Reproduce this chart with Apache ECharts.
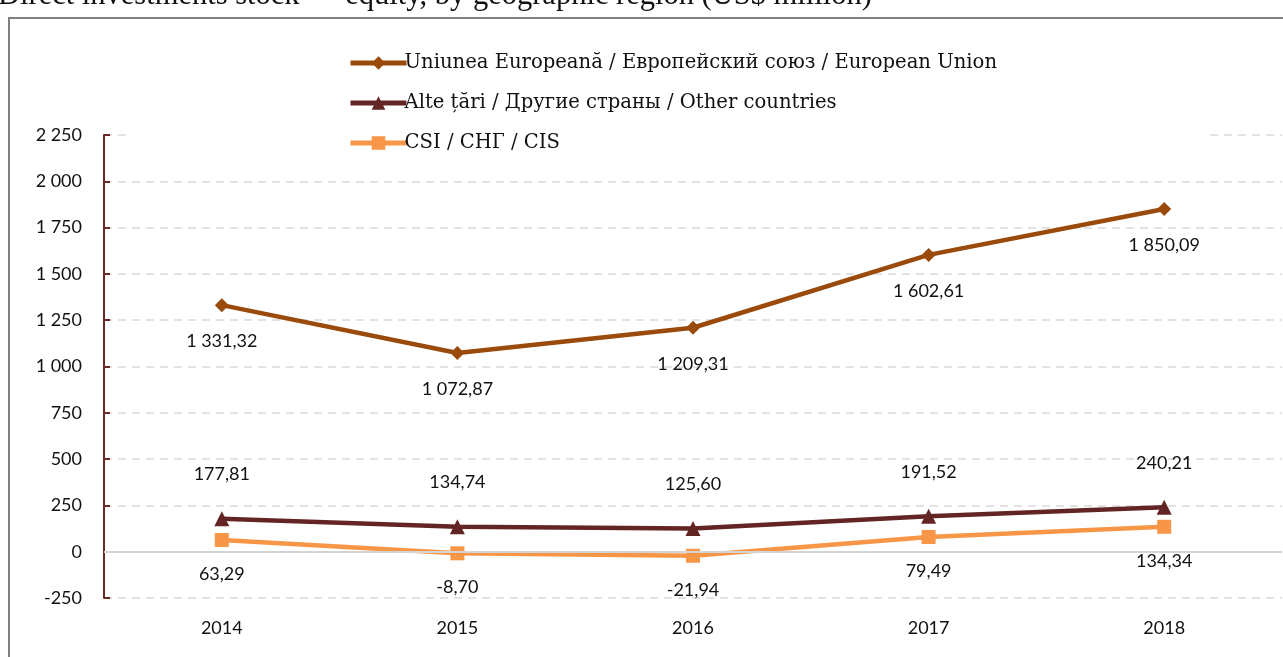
<!DOCTYPE html>
<html>
<head>
<meta charset="utf-8">
<script src="https://cdn.jsdelivr.net/npm/echarts@6/dist/echarts.min.js"></script>
<style>
  html, body { margin: 0; padding: 0; background: #fff; }
  #chart { width: 1283px; height: 657px; }
</style>
</head>
<body>
<div id="chart"></div>
<script>
var years = ['2014', '2015', '2016', '2017', '2018'];
var euValues = [1331.32, 1072.87, 1209.31, 1602.61, 1850.09];
var otherValues = [177.81, 134.74, 125.60, 191.52, 240.21];
var cisValues = [63.29, -8.70, -21.94, 79.49, 134.34];
var seriesNames = [
  'Uniunea Europeană / Европейский союз / European Union',
  'Alte țări / Другие страны / Other countries',
  'CSI / СНГ / CIS'
];

function groupThousands(s) {
  return s.replace(/\B(?=(\d{3})+(?!\d))/g, ' ');
}
function fmtValue(v) {
  var neg = v < 0;
  var parts = Math.abs(v).toFixed(2).split('.');
  return (neg ? '-' : '') + groupThousands(parts[0]) + ',' + parts[1];
}
function fmtTick(v) {
  var neg = v < 0;
  return (neg ? '-' : '') + groupThousands(String(Math.abs(v)));
}

var labelFont = { fontFamily: 'Lato', fontSize: 18, color: '#111' };

var chart = echarts.init(document.getElementById('chart'));
chart.setOption({
  animation: false,
  backgroundColor: '#fff',
  graphic: [
    {
      type: 'text', left: -2, top: -20, z: 20,
      style: {
        text: 'Direct investments stock — equity, by geographic region (US$ million)',
        fontFamily: 'Liberation Serif', fontSize: 30.5, fill: '#111'
      }
    },
    {
      type: 'rect', z: 20,
      shape: { x: 9, y: 18, width: 1400, height: 800 },
      style: { fill: 'none', stroke: '#808080', lineWidth: 2 }
    },
    {
      type: 'rect', z: 5,
      shape: { x: 127, y: 30, width: 1083, height: 116 },
      style: { fill: '#fff' }
    }
  ],
  legend: {
    orient: 'vertical',
    left: 343,
    top: 47,
    z: 10,
    itemWidth: 56,
    itemHeight: 17,
    itemGap: 18,
    lineStyle: { width: 5 },
    textStyle: { fontFamily: 'DejaVu Serif', fontSize: 19.6, color: '#111', lineHeight: 22, padding: [0, 0, 0, -7] },
    data: seriesNames
  },
  grid: { left: 104, right: 1, top: 135, bottom: 59 },
  xAxis: {
    type: 'category',
    data: years,
    axisLine: { show: false },
    axisTick: { show: false },
    axisLabel: Object.assign({ margin: 21 }, labelFont)
  },
  yAxis: {
    type: 'value',
    min: -250,
    max: 2250,
    interval: 250,
    axisLine: { show: true, lineStyle: { color: '#6b2a27', width: 2 } },
    axisTick: { show: true, inside: true, length: 6, lineStyle: { color: '#6b2a27', width: 2 } },
    axisLabel: Object.assign({ margin: 22, formatter: fmtTick }, labelFont),
    splitLine: { show: true, lineStyle: { color: '#d9d9d9', width: 1.5, type: [8, 6] } }
  },
  series: [
    {
      name: 'zero', type: 'line', data: [], z: 1,
      markLine: {
        silent: true, symbol: 'none', label: { show: false },
        lineStyle: { color: '#d4d4d4', type: 'solid', width: 2 },
        data: [{ yAxis: 0 }]
      }
    },
    {
      name: seriesNames[0], type: 'line', data: euValues, z: 3,
      symbol: 'diamond', symbolSize: 14,
      itemStyle: { color: '#9a4a0a' },
      lineStyle: { color: '#9a4a0a', width: 4.5 },
      label: Object.assign({ show: true, position: 'bottom', distance: 20,
        formatter: function (p) { return fmtValue(p.value); } }, labelFont)
    },
    {
      name: seriesNames[1], type: 'line', data: otherValues, z: 3,
      symbol: 'triangle', symbolSize: 15,
      itemStyle: { color: '#632523' },
      lineStyle: { color: '#632523', width: 4.5 },
      label: Object.assign({ show: true, position: 'top', distance: 28,
        formatter: function (p) { return fmtValue(p.value); } }, labelFont)
    },
    {
      name: seriesNames[2], type: 'line', data: cisValues, z: 3,
      symbol: 'rect', symbolSize: 14,
      itemStyle: { color: '#f79646' },
      lineStyle: { color: '#f79646', width: 4.5 },
      label: Object.assign({ show: true, position: 'bottom', distance: 18,
        formatter: function (p) { return fmtValue(p.value); } }, labelFont)
    }
  ]
});
</script>
</body>
</html>
